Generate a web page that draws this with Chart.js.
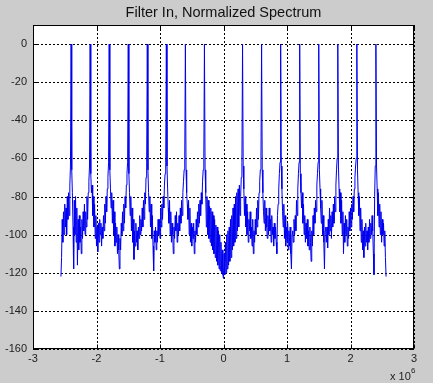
<!DOCTYPE html>
<html>
<head>
<meta charset="utf-8">
<script src="https://cdn.jsdelivr.net/npm/chart.js@4"></script>
<style>
  html, body { margin: 0; padding: 0; background: #cccccc; }
  canvas { display: block; }
</style>
</head>
<body>
<canvas id="spectrum" width="433" height="383"></canvas>
<script>
// spectrum samples, one every 0.01e6 starting at -2.56e6 (dB)
const freqStart = -2.56e6;
const freqStep = 0.01e6;
const levels = [
  -122, -112, -92, -104, -88, -100, -84, -96, -86, -100, -80, -92, -78, -90, -74, -64, 0,
  -66, -78, -96, -118, -82, -100, -80, -104, -86, -116, -92, -108, -90, -104, -96, -110, -92, -102, -88, -98, -84, -100, -88, -96, -80, -92, -78, -72, -64, 0,
  -68, -78, -74, -90, -80, -96, -84, -102, -90, -106, -96, -109, -94, -104, -92, -100, -94, -106, -96, -102, -90, -98, -84, -94, -80, -88, -76, -70, -62, 0,
  -66, -76, -86, -78, -94, -82, -100, -88, -106, -94, -104, -96, -110, -100, -108, -118, -102, -108, -94, -100, -88, -98, -84, -94, -80, -86, -74, -68, -62, 0,
  -68, -78, -90, -80, -98, -86, -104, -92, -113, -98, -106, -94, -104, -98, -108, -96, -102, -90, -100, -92, -98, -86, -96, -82, -92, -78, -84, -70, -62, 0,
  -66, -78, -88, -80, -96, -84, -102, -90, -106, -119, -98, -104, -96, -108, -98, -104, -92, -100, -92, -102, -86, -96, -84, -92, -80, -86, -74, -68, -62, 0,
  -64, -76, -86, -94, -82, -100, -88, -104, -94, -100, -110, -96, -102, -90, -98, -88, -104, -94, -100, -90, -98, -86, -94, -82, -90, -78, -72, -66, -60, 0,
  -66, -78, -84, -92, -82, -100, -86, -104, -94, -106, -96, -102, -94, -110, -98, -104, -92, -100, -88, -96, -84, -94, -82, -90, -78, -84, -72, -66, -60, 0,
  -66, -78, -96, -80, -100, -82, -102, -85, -104, -86, -106, -88, -108, -90, -110, -92, -112, -95, -114, -96, -116, -98, -118, -100, -119, -104, -120, -108, -121,
  -123,
  -110, -121, -104, -120, -100, -118, -98, -116, -96, -114, -92, -112, -90, -108, -86, -106, -84, -104, -80, -102, -78, -98, -76, -96, -74, -90, -80, -70, -62, 0,
  -64, -76, -90, -80, -96, -84, -100, -88, -104, -92, -98, -88, -102, -96, -106, -92, -110, -98, -104, -92, -100, -86, -96, -82, -92, -78, -72, -66, -60, 0,
  -66, -78, -88, -94, -82, -98, -86, -96, -102, -90, -100, -86, -98, -92, -104, -90, -100, -96, -106, -94, -102, -96, -104, -110, -90, -84, -76, -68, -62, 0,
  -64, -76, -88, -96, -84, -102, -90, -106, -96, -104, -94, -108, -98, -106, -96, -110, -118, -100, -98, -104, -92, -100, -90, -98, -82, -90, -76, -68, -62, 0,
  -68, -78, -86, -78, -94, -84, -100, -90, -104, -94, -102, -92, -106, -98, -108, -96, -104, -114, -98, -106, -90, -100, -86, -94, -82, -88, -74, -68, -62, 0,
  -66, -76, -86, -94, -82, -100, -90, -104, -118, -98, -96, -104, -96, -107, -92, -100, -86, -98, -90, -102, -88, -96, -84, -94, -80, -88, -74, -66, -60, 0,
  -64, -76, -88, -78, -94, -82, -100, -88, -110, -94, -104, -90, -100, -92, -106, -96, -102, -88, -98, -86, -96, -84, -92, -80, -88, -76, -70, -64, -60, 0,
  -66, -78, -90, -80, -98, -86, -104, -92, -108, -98, -112, -96, -106, -94, -104, -98, -108, -96, -104, -92, -102, -94, -100, -90, -98, -110, -121, -80, -64, 0,
  -64, -76, -90, -78, -96, -84, -100, -88, -104, -92, -100, -94, -106, -98, -112, -122
];
const xTicks = [-3, -2, -1, 0, 1, 2, 3];
const yTicks = [0, -20, -40, -60, -80, -100, -120, -140, -160];

const points = levels.map((v, i) => ({ x: freqStart + i * freqStep, y: v }));

const matlabFrame = {
  id: 'matlabFrame',
  beforeDatasetsDraw(chart) {
    const { ctx, chartArea: a, scales } = chart;
    ctx.save();
    ctx.fillStyle = '#ffffff';
    ctx.fillRect(a.left, a.top, a.right - a.left, a.bottom - a.top);
    // dotted grid
    ctx.strokeStyle = '#000000';
    ctx.lineWidth = 1;
    ctx.setLineDash([2, 2]);
    ctx.beginPath();
    xTicks.forEach(v => {
      const px = Math.round(scales.x.getPixelForValue(v * 1e6)) + 0.5;
      ctx.moveTo(px, a.top); ctx.lineTo(px, a.bottom);
    });
    yTicks.forEach(v => {
      const py = Math.round(scales.y.getPixelForValue(v)) + 0.5;
      ctx.moveTo(a.left, py); ctx.lineTo(a.right, py);
    });
    ctx.stroke();
    ctx.restore();
  },
  afterDraw(chart) {
    const { ctx, chartArea: a, scales } = chart;
    const l = Math.round(a.left) + 0.5, r = Math.round(a.right) - 0.5;
    const t = Math.round(a.top) + 0.5, b = Math.round(a.bottom) - 0.5;
    ctx.save();
    ctx.strokeStyle = '#000000';
    ctx.lineWidth = 1;
    ctx.strokeRect(l, t, r - l, b - t);
    // inward tick marks like matlab
    ctx.beginPath();
    xTicks.forEach(v => {
      const px = Math.round(scales.x.getPixelForValue(v * 1e6)) + 0.5;
      ctx.moveTo(px, b); ctx.lineTo(px, b - 4);
      ctx.moveTo(px, t); ctx.lineTo(px, t + 4);
    });
    yTicks.forEach(v => {
      const py = Math.round(scales.y.getPixelForValue(v)) + 0.5;
      ctx.moveTo(l, py); ctx.lineTo(l + 4, py);
      ctx.moveTo(r, py); ctx.lineTo(r - 4, py);
    });
    ctx.stroke();
    // axis multiplier
    ctx.fillStyle = '#222222';
    ctx.font = '11px "Liberation Sans", Arial, sans-serif';
    ctx.textBaseline = 'alphabetic';
    ctx.fillText('x 10', 390, 380);
    ctx.font = '8px "Liberation Sans", Arial, sans-serif';
    ctx.fillText('6', 411, 373);
    ctx.restore();
  }
};

new Chart(document.getElementById('spectrum'), {
  type: 'line',
  data: {
    datasets: [
      {
        data: points,
        borderColor: '#0000f0',
        borderWidth: 1,
        pointRadius: 0,
        tension: 0,
        fill: false,
      },
    ],
  },
  options: {
    responsive: false,
    animation: false,
    events: [],
    layout: { padding: { left: 0, right: 19, top: 0, bottom: 0 } },
    plugins: {
      legend: { display: false },
      tooltip: { enabled: false },
      title: {
        display: true,
        fullSize: false,
        text: 'Filter In, Normalized Spectrum',
        color: '#111111',
        font: { family: '"Liberation Sans", Arial, sans-serif', size: 14.5, weight: 'normal' },
        padding: { top: 4, bottom: 3.6 },
      },
    },
    scales: {
      x: {
        type: 'linear',
        min: -3e6,
        max: 3e6,
        afterBuildTicks: axis => { axis.ticks = xTicks.map(v => ({ value: v * 1e6 })); },
        afterFit: axis => { axis.height = 34; },
        grid: { display: false, drawTicks: false },
        border: { display: false },
        ticks: {
          color: '#222222',
          padding: 3,
          maxRotation: 0,
          font: { family: '"Liberation Sans", Arial, sans-serif', size: 11 },
          callback: v => String(v / 1e6),
        },
      },
      y: {
        min: -160,
        max: 10,
        afterBuildTicks: axis => { axis.ticks = yTicks.map(v => ({ value: v })); },
        afterFit: axis => { axis.width = 33; },
        grid: { display: false, drawTicks: false },
        border: { display: false },
        ticks: {
          color: '#222222',
          padding: 6,
          font: { family: '"Liberation Sans", Arial, sans-serif', size: 11 },
        },
      },
    },
  },
  plugins: [matlabFrame],
});
</script>
</body>
</html>
